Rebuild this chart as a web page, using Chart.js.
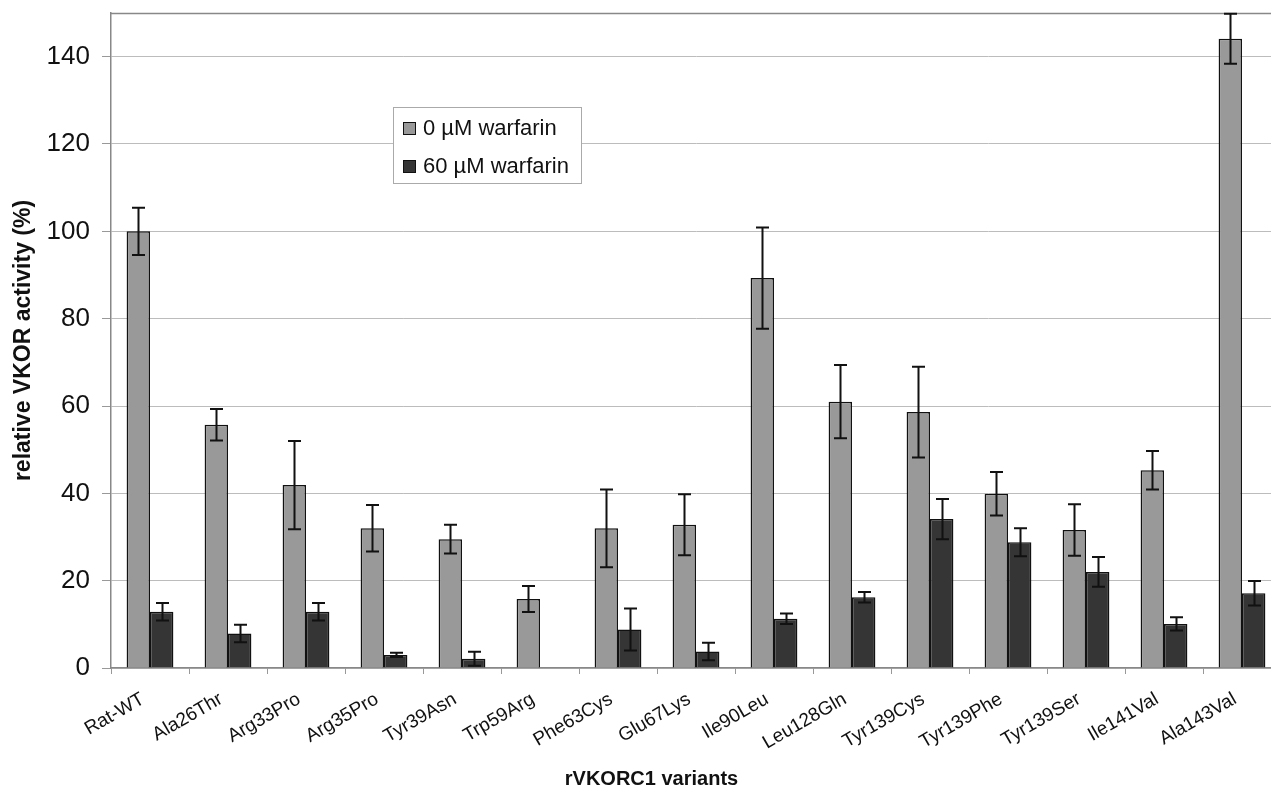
<!DOCTYPE html>
<html>
<head>
<meta charset="utf-8">
<script src="https://cdn.jsdelivr.net/npm/chart.js@4/dist/chart.umd.min.js"></script>
<style>
  html, body { margin: 0; padding: 0; background: #fff; overflow: hidden; }
  #wrap { width: 1290px; height: 790px; }
</style>
</head>
<body>
<div id="wrap"><canvas id="vkorChart" width="1290" height="790"></canvas></div>
<script>
// variants on the x axis
var variants = ['Rat-WT', 'Ala26Thr', 'Arg33Pro', 'Arg35Pro', 'Tyr39Asn', 'Trp59Arg', 'Phe63Cys',
    'Glu67Lys', 'Ile90Leu', 'Leu128Gln', 'Tyr139Cys', 'Tyr139Phe', 'Tyr139Ser', 'Ile141Val', 'Ala143Val'];

// 0 µM warfarin
var activity0 = [100, 55.7, 41.9, 32.0, 29.5, 15.8, 32.0, 32.8, 89.3, 61.0, 58.6, 39.9, 31.6, 45.3, 144.1];
var error0 = [5.4, 3.6, 10.1, 5.3, 3.3, 3.0, 8.9, 7.0, 11.6, 8.4, 10.4, 5.0, 5.9, 4.4, 5.7];

// 60 µM warfarin
var activity60 = [12.9, 7.9, 12.9, 3.0, 2.1, 0, 8.8, 3.8, 11.3, 16.2, 34.1, 28.8, 22.0, 10.1, 17.1];
var error60 = [2.0, 2.0, 2.0, 0.5, 1.6, 0, 4.8, 2.0, 1.2, 1.2, 4.6, 3.2, 3.4, 1.5, 2.8];

var yTicks = [0, 20, 40, 60, 80, 100, 120, 140];

Chart.defaults.font.family = '"Liberation Sans", Arial, sans-serif';
Chart.defaults.color = '#111';

// error bars drawn on top of the bars
var errorBars = {
    id: 'errorBars',
    afterDatasetsDraw: function (chart) {
        var ctx = chart.ctx;
        var yScale = chart.scales.y;
        ctx.save();
        ctx.strokeStyle = '#111';
        ctx.lineWidth = 2;
        chart.data.datasets.forEach(function (ds, i) {
            var meta = chart.getDatasetMeta(i);
            meta.data.forEach(function (bar, j) {
                var err = ds.errors[j];
                if (!err) return;
                var v = ds.data[j];
                var yTop = yScale.getPixelForValue(v + err);
                var yBot = yScale.getPixelForValue(v - err);
                var x = Math.round(bar.x) + 0.5;
                ctx.beginPath();
                ctx.moveTo(x, yTop); ctx.lineTo(x, yBot);
                ctx.moveTo(x - 6.5, yTop); ctx.lineTo(x + 6.5, yTop);
                ctx.moveTo(x - 6.5, yBot); ctx.lineTo(x + 6.5, yBot);
                ctx.stroke();
            });
        });
        ctx.restore();
    }
};

// top border, legend box and x axis title
var extras = {
    id: 'extras',
    beforeDatasetsDraw: function (chart) {
        var ctx = chart.ctx, a = chart.chartArea;
        ctx.save();
        ctx.strokeStyle = '#888';
        ctx.lineWidth = 1.5;
        ctx.beginPath();
        ctx.moveTo(a.left, a.top + 0.5);
        ctx.lineTo(a.right, a.top + 0.5);
        ctx.stroke();
        ctx.restore();
    },
    afterDraw: function (chart) {
        var ctx = chart.ctx, a = chart.chartArea;
        ctx.save();
        // legend
        var lx = a.left + 282, ly = a.top + 94;
        ctx.fillStyle = '#fff';
        ctx.fillRect(lx, ly, 188, 76);
        ctx.strokeStyle = '#aaa';
        ctx.lineWidth = 1;
        ctx.strokeRect(lx + 0.5, ly + 0.5, 188, 76);
        ctx.font = '22px "Liberation Sans", Arial, sans-serif';
        ctx.textBaseline = 'middle';
        chart.data.datasets.forEach(function (ds, i) {
            var cy = ly + 21 + i * 38;
            ctx.fillStyle = ds.backgroundColor;
            ctx.fillRect(lx + 10, cy - 6, 12, 12);
            ctx.strokeStyle = '#111';
            ctx.strokeRect(lx + 10.5, cy - 5.5, 12, 12);
            ctx.fillStyle = '#111';
            ctx.fillText(ds.label, lx + 30, cy + 1);
        });
        // x axis title
        ctx.font = 'bold 20px "Liberation Sans", Arial, sans-serif';
        ctx.textAlign = 'center';
        ctx.fillText('rVKORC1 variants', (a.left + chart.width) / 2 - 49, chart.height - 11);
        ctx.restore();
    }
};

new Chart(document.getElementById('vkorChart'), {
    type: 'bar',
    data: {
        labels: variants,
        datasets: [{
            label: '0 µM warfarin',
            data: activity0,
            errors: error0,
            backgroundColor: '#999999',
            borderColor: '#111',
            borderWidth: 1.5
        }, {
            label: '60 µM warfarin',
            data: activity60,
            errors: error60,
            backgroundColor: '#353535',
            borderColor: '#111',
            borderWidth: 1.5
        }]
    },
    options: {
        responsive: false,
        animation: false,
        devicePixelRatio: 1,
        layout: { padding: { left: 10, top: 13, right: 9, bottom: 0 } },
        datasets: { bar: { categoryPercentage: 0.6, barPercentage: 1.0 } },
        plugins: {
            legend: { display: false },
            tooltip: { enabled: false }
        },
        scales: {
            y: {
                min: 0,
                max: 150,
                afterFit: function (scale) {
                    scale.width = 101;
                    scale.paddingTop = 0;
                    scale.paddingBottom = 0;
                },
                afterBuildTicks: function (scale) {
                    scale.ticks = yTicks.map(function (v) { return { value: v }; });
                },
                ticks: { font: { size: 26 }, padding: 12, color: '#111' },
                grid: { color: '#bcbcbc', tickColor: '#999', tickLength: 9, lineWidth: 1 },
                border: { color: '#888', width: 1.5 },
                title: {
                    display: true,
                    text: 'relative VKOR activity (%)',
                    font: { size: 23, weight: 'bold' },
                    color: '#111',
                    padding: 0
                }
            },
            x: {
                afterFit: function (scale) { scale.height = 122; },
                ticks: {
                    font: { size: 19 }, minRotation: 30, maxRotation: 30,
                    padding: 14, labelOffset: -7, color: '#111', autoSkip: false
                },
                grid: { drawOnChartArea: false, tickColor: '#999', tickLength: 6 },
                border: { color: '#888', width: 1.5 }
            }
        }
    },
    plugins: [errorBars, extras]
});
</script>
</body>
</html>
